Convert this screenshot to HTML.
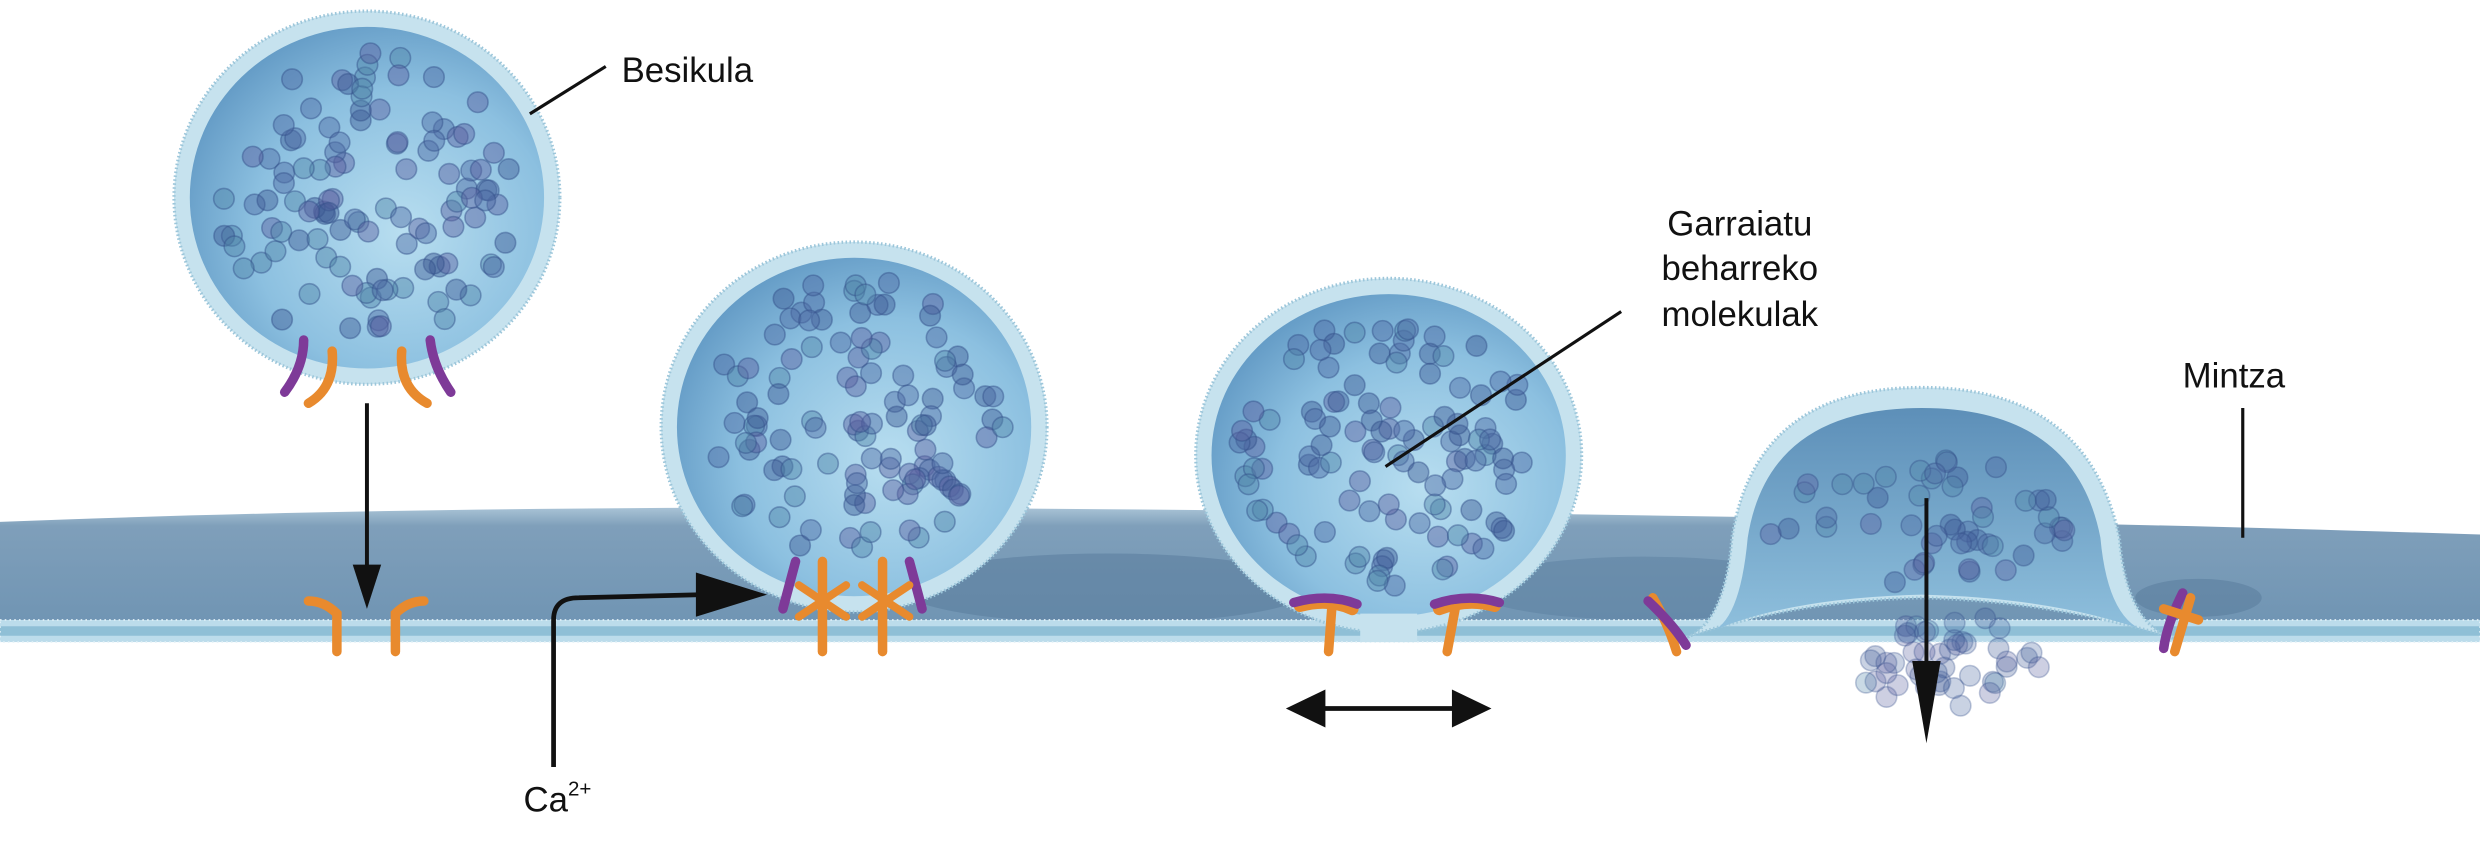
<!DOCTYPE html>
<html><head><meta charset="utf-8"><style>
html,body{margin:0;padding:0;background:#fff;width:2480px;height:854px;overflow:hidden}
svg{display:block}
text{font-family:"Liberation Sans",sans-serif;fill:#111}
</style></head><body>
<svg id="s" width="2480" height="854" viewBox="0 0 1568 540" preserveAspectRatio="none" xmlns="http://www.w3.org/2000/svg">
<defs>
<linearGradient id="mem" x1="0" y1="0" x2="0" y2="1">
<stop offset="0" stop-color="#a9c3d6"/><stop offset="0.15" stop-color="#7f9fba"/><stop offset="1" stop-color="#6f94b3"/></linearGradient>
<radialGradient id="ves" cx="0.6" cy="0.6" r="0.7">
<stop offset="0" stop-color="#b8def0"/><stop offset="0.6" stop-color="#8cc0e0"/><stop offset="1" stop-color="#5b93c0"/></radialGradient>
<linearGradient id="dome" x1="0" y1="0" x2="0" y2="1">
<stop offset="0" stop-color="#5d8fb8"/><stop offset="1" stop-color="#8fc0dd"/></linearGradient>
</defs>
<path d="M0,330 Q300,318 700,322 Q1200,326 1568,338 L1568,398 L0,398 Z" fill="url(#mem)"/>
<ellipse cx="700" cy="372" rx="130" ry="22" fill="#5b7f9f" opacity="0.6"/>
<ellipse cx="1040" cy="372" rx="110" ry="20" fill="#5b7f9f" opacity="0.5"/>
<ellipse cx="1390" cy="378" rx="40" ry="12" fill="#5b7f9f" opacity="0.6"/>
<rect x="0" y="392" width="1568" height="14" fill="#bcdceb"/>
<rect x="0" y="396" width="1568" height="6" fill="#8fbfd6"/>
<rect x="0" y="392" width="1568" height="14" fill="none" stroke="#e4f2f8" stroke-width="1" stroke-dasharray="1 2"/>
<ellipse cx="232" cy="125" rx="122" ry="118" fill="#c6e2ee" stroke="#9cc6da" stroke-width="2" stroke-dasharray="1 1.5"/>
<ellipse cx="232" cy="125" rx="112" ry="108" fill="url(#ves)"/>
<ellipse cx="540" cy="270" rx="122" ry="117" fill="#c6e2ee" stroke="#9cc6da" stroke-width="2" stroke-dasharray="1 1.5"/>
<ellipse cx="540" cy="270" rx="112" ry="107" fill="url(#ves)"/>
<ellipse cx="878" cy="288" rx="122" ry="112" fill="#c6e2ee" stroke="#9cc6da" stroke-width="2" stroke-dasharray="1 1.5"/>
<ellipse cx="878" cy="288" rx="112" ry="102" fill="url(#ves)"/>
<rect x="860" y="388" width="36" height="18" fill="#c6e2ee"/>
<path d="M1060,405 Q1090,400 1095,340 Q1110,245 1215,245 Q1320,245 1340,340 Q1345,400 1380,405 Q1300,380 1215,378 Q1130,380 1060,405Z" fill="#c6e2ee" stroke="#9cc6da" stroke-width="2" stroke-dasharray="1 1.5"/>
<path d="M1080,400 Q1100,395 1105,340 Q1118,258 1215,258 Q1312,258 1328,340 Q1333,395 1360,400 Q1300,378 1215,376 Q1130,378 1080,400Z" fill="url(#dome)"/>
<g id="mols"></g>
<g fill="none" stroke-linecap="round" stroke-width="6">
<path d="M180,248 Q192,232 192,215" stroke="#7e3a98"/><path d="M285,248 Q274,232 272,215" stroke="#7e3a98"/>
<path d="M195,255 Q212,245 210,222" stroke="#e88a2e"/><path d="M270,255 Q252,245 254,222" stroke="#e88a2e"/>
<path d="M213,412 L213,388 Q205,380 195,380" stroke="#e88a2e"/><path d="M250,412 L250,388 Q258,380 268,380" stroke="#e88a2e"/>
<path d="M520,412 L520,355" stroke="#e88a2e"/><path d="M558,412 L558,355" stroke="#e88a2e"/>
<path d="M495,385 L503,355" stroke="#7e3a98"/><path d="M583,385 L575,355" stroke="#7e3a98"/>
<path d="M505,370 L535,390 M535,370 L505,390 M545,370 L575,390 M575,370 L545,390" stroke="#e88a2e" stroke-width="5"/>
<path d="M822,383 Q840,378 855,385" stroke="#e88a2e" stroke-width="8"/><path d="M818,381 Q840,375 858,382" stroke="#7e3a98"/>
<path d="M840,412 L842,385" stroke="#e88a2e"/>
<path d="M910,385 Q928,378 945,383" stroke="#e88a2e" stroke-width="8"/><path d="M907,382 Q928,375 948,381" stroke="#7e3a98"/>
<path d="M915,412 L920,385" stroke="#e88a2e"/>
<path d="M1045,378 Q1055,395 1060,412" stroke="#e88a2e"/><path d="M1042,380 Q1058,395 1066,408" stroke="#7e3a98"/>
<path d="M1380,375 Q1370,395 1368,410" stroke="#7e3a98"/><path d="M1385,378 L1375,412 M1368,385 L1390,392" stroke="#e88a2e"/>
</g>
<g stroke="#111" stroke-width="2" fill="none">
<line x1="335" y1="72" x2="383" y2="42"/>
<line x1="876" y1="295" x2="1025" y2="197"/>
<line x1="1418" y1="258" x2="1418" y2="340"/>
<line x1="232" y1="255" x2="232" y2="360" stroke-width="2.5"/>
<path d="M350,485 L350,392 Q350,378 366,378 L445,376" stroke-width="3"/>
<line x1="835" y1="448" x2="922" y2="448" stroke-width="3"/>
<line x1="1218" y1="315" x2="1218" y2="440" stroke-width="2.5"/>
</g>
<g fill="#111">
<path d="M223,357 L241,357 L232,385 Z"/>
<path d="M440,362 L440,390 L485,376 Z"/>
<path d="M813,448 L838,436 L838,460 Z"/><path d="M943,448 L918,436 L918,460 Z"/>
<path d="M1209,418 L1227,418 L1218,470 Z"/>
</g>
<text x="393" y="52" font-size="22">Besikula</text>
<text x="1100" y="149" font-size="22" text-anchor="middle">Garraiatu</text>
<text x="1100" y="177" font-size="22" text-anchor="middle">beharreko</text>
<text x="1100" y="206" font-size="22" text-anchor="middle">molekulak</text>
<text x="1380" y="245" font-size="22">Mintza</text>
<text x="331" y="513" font-size="22">Ca<tspan font-size="13" dy="-10">2+</tspan></text>
</svg>
<script>
(function(){var g=document.getElementById('mols'),s=7;function r(){s=(s*9301+49297)%233280;return s/233280;}
function add(cx,cy,rx,ry,n,op){for(var i=0;i<n;i++){var a=r()*6.283,d=Math.sqrt(r());var x=cx+Math.cos(a)*d*rx,y=cy+Math.sin(a)*d*ry;
var c=document.createElementNS('http://www.w3.org/2000/svg','circle');c.setAttribute('cx',x);c.setAttribute('cy',y);c.setAttribute('r',6.5);
var col=['#4d6aa3','#5a5fa0','#4f85a8','#3f5a95'][Math.floor(r()*4)];c.setAttribute('fill',col);c.setAttribute('fill-opacity',op);c.setAttribute('stroke','#34508a');c.setAttribute('stroke-opacity',op);g.appendChild(c);}}
add(232,125,95,95,110,0.45);add(540,268,95,92,110,0.45);add(878,285,95,88,110,0.45);add(1215,330,100,40,50,0.4);add(1230,418,60,30,45,0.3);})();
</script>
</body></html>
